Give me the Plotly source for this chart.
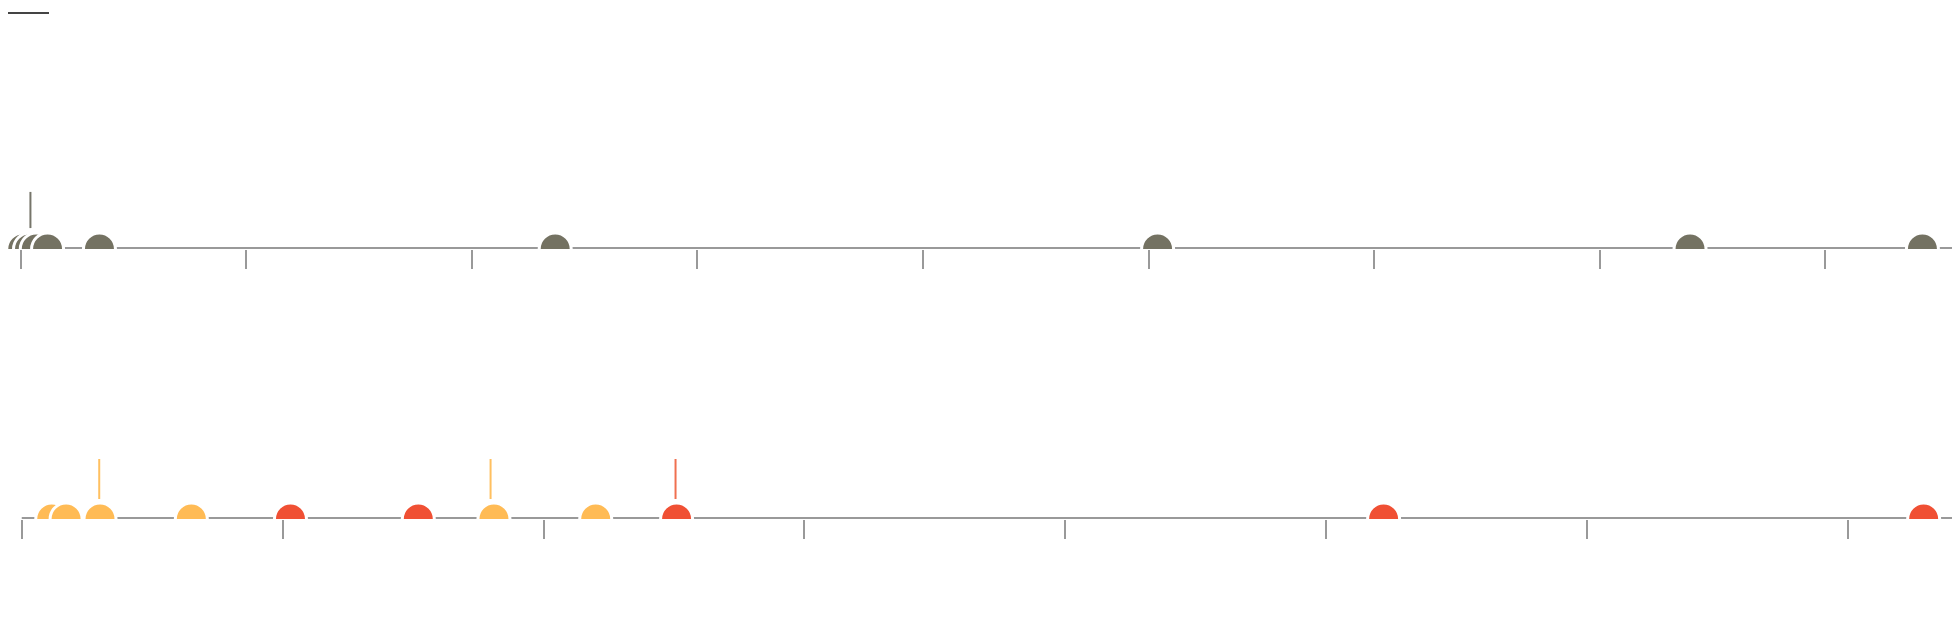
import plotly.graph_objects as go

# top timeline (units = tick steps)
top_x = [0.01, 0.04, 0.07, 0.12, 0.35, 2.37, 5.04, 7.40, 8.43]
top_stems = [0.044]

# bottom timeline
bot_x = [0.115, 0.17, 0.30, 0.65, 1.03, 1.52, 1.81, 2.20, 2.51, 5.22, 7.29]
bot_kind = ['a', 'a', 'a', 'a', 'b', 'b', 'a', 'a', 'b', 'b', 'b']
bot_stems = [0.297, 1.797, 2.506]
bot_stem_kind = ['a', 'a', 'b']

GREY = '#999999'
DARK = '#747262'
COLS = {'a': '#ffbb55', 'b': '#f05034'}
STEM_COLS = {'a': '#ffc060', 'b': '#f07050'}

fig = go.Figure()

# axis lines
fig.add_trace(go.Scatter(x=[0, 20], y=[0, 0], mode='lines', line=dict(color=GREY, width=4),
                         xaxis='x', yaxis='y', hoverinfo='skip'))
fig.add_trace(go.Scatter(x=[0, 20], y=[0, 0], mode='lines', line=dict(color=GREY, width=4),
                         xaxis='x2', yaxis='y2', hoverinfo='skip'))

# stems
for s in top_stems:
    fig.add_trace(go.Scatter(x=[s, s], y=[0.087, 0.237], mode='lines',
                             line=dict(color='#76756a', width=2), xaxis='x', yaxis='y'))
for s, k in zip(bot_stems, bot_stem_kind):
    fig.add_trace(go.Scatter(x=[s, s], y=[0.089, 0.267], mode='lines',
                             line=dict(color=STEM_COLS[k], width=2), xaxis='x2', yaxis='y2'))

# markers
fig.add_trace(go.Scatter(x=top_x, y=[0] * len(top_x), mode='markers',
                         marker=dict(size=32, color=DARK, line=dict(color='white', width=3)),
                         xaxis='x', yaxis='y'))
fig.add_trace(go.Scatter(x=bot_x, y=[0] * len(bot_x), mode='markers',
                         marker=dict(size=32, color=[COLS[k] for k in bot_kind],
                                     line=dict(color='white', width=3)),
                         xaxis='x2', yaxis='y2'))

ax = dict(showgrid=False, zeroline=False, showticklabels=False, showline=False,
          ticks='outside', ticklen=19, tickwidth=2, tickcolor=GREY, dtick=1, tick0=0)
fig.update_layout(
    width=1960, height=636, margin=dict(l=0, r=0, t=0, b=0),
    plot_bgcolor='white', paper_bgcolor='white', showlegend=False,
    xaxis=dict(ax, domain=[0, 1], range=[-0.0554, 8.632], anchor='y'),
    yaxis=dict(domain=[0.621, 1], range=[0, 1], visible=False),
    xaxis2=dict(ax, domain=[0, 1], range=[-0.0527, 7.46], anchor='y2'),
    yaxis2=dict(domain=[0.1965, 0.55], range=[0, 1], visible=False),
    shapes=[dict(type='line', xref='paper', yref='paper', x0=0, x1=41 / 1960,
                 y0=1 - 5 / 636, y1=1 - 5 / 636, line=dict(color='#444444', width=2))],
)

fig.write_html("out.html")
